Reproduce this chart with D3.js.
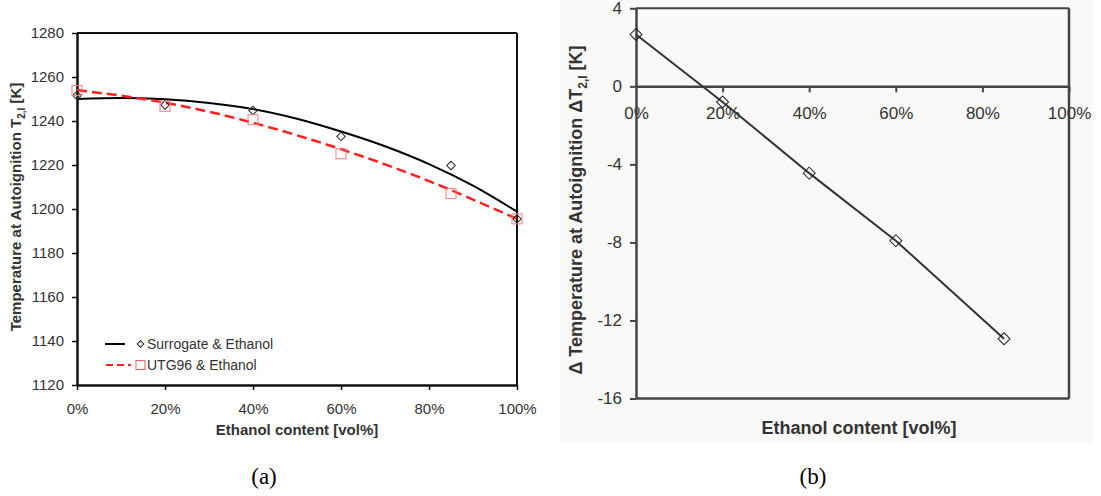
<!DOCTYPE html>
<html>
<head>
<meta charset="utf-8">
<script src="https://cdn.jsdelivr.net/npm/d3@7/dist/d3.min.js"></script>
<style>
  body { margin: 0; background: #fff; }
  svg { display: block; font-family: "Liberation Sans", Arial, sans-serif; }
</style>
</head>
<body>
<div id="chart"></div>
<script>
// ---- data ----
var ethanolPct = [0, 20, 40, 60, 85, 100];
var surrogateT = [1251.6, 1247.3, 1244.8, 1233.0, 1219.8, 1195.5];
var utg96T = [1253.9, 1246.7, 1240.6, 1225.1, 1207.0, 1195.5];

// trend lines (polynomial fits in the original), sampled every 10 %
var trendPct = [0, 10, 20, 30, 40, 50, 60, 70, 80, 90, 100];
var surrogateTrend = [1250.0, 1250.5, 1249.9, 1248.2, 1245.4, 1241.0, 1235.2, 1228.5, 1220.4, 1210.6, 1198.8];
var utg96Trend = [1254.0, 1251.5, 1248.3, 1244.2, 1239.2, 1233.5, 1227.2, 1220.3, 1212.7, 1204.3, 1195.5];

var deltaPct = [0, 20, 40, 60, 85];
var deltaT = [2.66, -0.8, -4.45, -7.91, -12.94];

var pctTicks = [0, 20, 40, 60, 80, 100];
var tempTicks = [1120, 1140, 1160, 1180, 1200, 1220, 1240, 1260, 1280];
var deltaTicks = [4, 0, -4, -8, -12, -16];

var width = 1101, height = 496;
var svg = d3.select("#chart").append("svg")
    .attr("width", width)
    .attr("height", height);

// diamond = rotated square
function diamond(g, pts, area, color) {
    g.selectAll(null).data(pts).enter().append("path")
        .attr("d", d3.symbol(d3.symbolSquare, area)())
        .attr("transform", function(d){ return "translate(" + d[0] + "," + d[1] + ") rotate(45)"; })
        .attr("fill", "none")
        .attr("stroke", color)
        .attr("stroke-width", 1);
}

// ================= (a) =================
var xA = d3.scaleLinear().domain([0, 100]).range([77, 517]);
var yA = d3.scaleLinear().domain([1120, 1280]).range([385, 33]);
var gA = svg.append("g");

// frame top/right
gA.append("line").attr("x1", xA(0)).attr("x2", xA(100)).attr("y1", yA(1280)).attr("y2", yA(1280))
  .attr("stroke", "#111").attr("stroke-width", 2);
gA.append("line").attr("x1", xA(100)).attr("x2", xA(100)).attr("y1", yA(1280)).attr("y2", yA(1120))
  .attr("stroke", "#111").attr("stroke-width", 2);

var axA = gA.append("g")
    .attr("transform", "translate(0," + yA(1120) + ")")
    .call(d3.axisBottom(xA).tickValues(pctTicks).tickSize(5).tickPadding(13).tickSizeOuter(0)
        .tickFormat(function(d){ return d + "%"; }));
var ayA = gA.append("g")
    .attr("transform", "translate(" + xA(0) + ",0)")
    .call(d3.axisLeft(yA).tickValues(tempTicks).tickSize(5).tickPadding(8).tickSizeOuter(0)
        .tickFormat(function(d){ return String(d); }));
[axA, ayA].forEach(function(a){
    a.select(".domain").attr("stroke", "#111").attr("stroke-width", 2.5);
    a.selectAll(".tick line").attr("stroke", "#111").attr("stroke-width", 1.5);
    a.selectAll(".tick text").attr("fill", "#333").attr("font-size", "15px")
        .attr("font-family", "Liberation Sans, Arial, sans-serif");
});

var lineA = d3.line()
    .x(function(d){ return xA(d[0]); })
    .y(function(d){ return yA(d[1]); })
    .curve(d3.curveMonotoneX);

gA.append("path")
    .attr("d", lineA(trendPct.map(function(p, i){ return [p, surrogateTrend[i]]; })))
    .attr("fill", "none").attr("stroke", "#000").attr("stroke-width", 2);
gA.append("path")
    .attr("d", lineA(trendPct.map(function(p, i){ return [p, utg96Trend[i]]; })))
    .attr("fill", "none").attr("stroke", "#ff1f1f").attr("stroke-width", 2.5)
    .attr("stroke-dasharray", "10,5");

diamond(gA, ethanolPct.map(function(p, i){ return [xA(p), yA(surrogateT[i])]; }), 36, "#222");
gA.selectAll(".sq").data(ethanolPct).enter().append("rect")
    .attr("x", function(d){ return xA(d) - 5; })
    .attr("y", function(d, i){ return yA(utg96T[i]) - 5; })
    .attr("width", 10).attr("height", 10)
    .attr("fill", "none").attr("stroke", "#ff7b7b").attr("stroke-width", 1);

// legend
var lg = gA.append("g");
lg.append("line").attr("x1", 105).attr("x2", 125).attr("y1", 344).attr("y2", 344)
  .attr("stroke", "#000").attr("stroke-width", 2);
diamond(lg, [[140.5, 344]], 22, "#222");
lg.append("text").attr("x", 147).attr("y", 349).attr("font-size", "14px").attr("fill", "#333")
  .text("Surrogate & Ethanol");
lg.append("line").attr("x1", 106).attr("x2", 131).attr("y1", 365).attr("y2", 365)
  .attr("stroke", "#ff1f1f").attr("stroke-width", 2).attr("stroke-dasharray", "7,4");
lg.append("rect").attr("x", 136).attr("y", 360.5).attr("width", 9).attr("height", 9)
  .attr("fill", "none").attr("stroke", "#ff5a5a").attr("stroke-width", 1);
lg.append("text").attr("x", 147).attr("y", 370).attr("font-size", "14px").attr("fill", "#333")
  .text("UTG96 & Ethanol");

// titles
gA.append("text")
    .attr("x", 297).attr("y", 435)
    .attr("text-anchor", "middle").attr("font-size", "15px").attr("font-weight", "bold").attr("fill", "#333")
    .text("Ethanol content [vol%]");
var tA = gA.append("text")
    .attr("transform", "translate(21,207) rotate(-90)")
    .attr("text-anchor", "middle").attr("font-size", "15px").attr("font-weight", "bold").attr("fill", "#333");
tA.append("tspan").text("Temperature at Autoignition T");
tA.append("tspan").attr("font-size", "10px").attr("dy", 4).text("2,I");
tA.append("tspan").attr("dy", -4).text(" [K]");

// ================= (b) =================
var gB = svg.append("g");
gB.append("rect").attr("x", 560).attr("y", 0).attr("width", 533).attr("height", 443)
  .attr("fill", "#f9f9f8");

var xB = d3.scaleLinear().domain([0, 100]).range([636, 1069]);
var yB = d3.scaleLinear().domain([-16, 4]).range([398.5, 8.3]);
var frameC = "#444";

gB.append("line").attr("x1", xB(0)).attr("x2", xB(100)).attr("y1", yB(4)).attr("y2", yB(4))
  .attr("stroke", frameC).attr("stroke-width", 2);
gB.append("line").attr("x1", xB(100)).attr("x2", xB(100)).attr("y1", yB(4)).attr("y2", yB(-16))
  .attr("stroke", frameC).attr("stroke-width", 2.5);
gB.append("line").attr("x1", xB(0)).attr("x2", xB(100)).attr("y1", yB(-16)).attr("y2", yB(-16))
  .attr("stroke", frameC).attr("stroke-width", 2.5);

var axB = gB.append("g")
    .attr("transform", "translate(0," + yB(0) + ")")
    .call(d3.axisBottom(xB).tickValues(pctTicks).tickSize(6).tickPadding(15).tickSizeOuter(0)
        .tickFormat(function(d){ return d + "%"; }));
var ayB = gB.append("g")
    .attr("transform", "translate(" + xB(0) + ",0)")
    .call(d3.axisLeft(yB).tickValues(deltaTicks).tickSize(6).tickPadding(8).tickSizeOuter(0)
        .tickFormat(function(d){ return String(d); }));
[axB, ayB].forEach(function(a){
    a.select(".domain").attr("stroke", frameC).attr("stroke-width", 2.5);
    a.selectAll(".tick line").attr("stroke", frameC).attr("stroke-width", 2);
    a.selectAll(".tick text").attr("fill", "#333").attr("font-size", "17px")
        .attr("font-family", "Liberation Sans, Arial, sans-serif");
});
axB.selectAll(".tick").filter(function(d){ return d === 0; }).select("line").remove();

var lineB = d3.line()
    .x(function(d){ return xB(d[0]); })
    .y(function(d){ return yB(d[1]); });
gB.append("path")
    .attr("d", lineB(deltaPct.map(function(p, i){ return [p, deltaT[i]]; })))
    .attr("fill", "none").attr("stroke", "#333").attr("stroke-width", 2);
diamond(gB, deltaPct.map(function(p, i){ return [xB(p), yB(deltaT[i])]; }), 72, "#222");

gB.append("text")
    .attr("x", 859).attr("y", 434)
    .attr("text-anchor", "middle").attr("font-size", "18px").attr("font-weight", "bold").attr("fill", "#333")
    .text("Ethanol content [vol%]");
var tB = gB.append("text")
    .attr("transform", "translate(582,210) rotate(-90)")
    .attr("text-anchor", "middle").attr("font-size", "18px").attr("font-weight", "bold").attr("fill", "#333");
tB.append("tspan").text("\u0394 Temperature at Autoignition \u0394T");
tB.append("tspan").attr("font-size", "12px").attr("dy", 5).text("2,I");
tB.append("tspan").attr("dy", -5).text(" [K]");

// captions
svg.append("text").attr("x", 264).attr("y", 484).attr("text-anchor", "middle")
  .attr("font-family", "Liberation Serif, serif").attr("font-size", "23px").attr("fill", "#000").text("(a)");
svg.append("text").attr("x", 813).attr("y", 484).attr("text-anchor", "middle")
  .attr("font-family", "Liberation Serif, serif").attr("font-size", "23px").attr("fill", "#000").text("(b)");
</script>
</body>
</html>
